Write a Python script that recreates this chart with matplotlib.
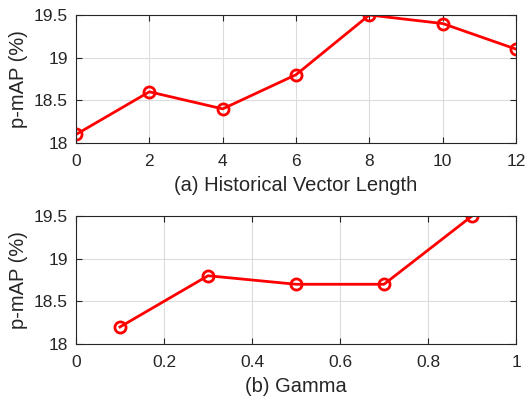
import numpy as np
import matplotlib
matplotlib.use('Agg')
import matplotlib.pyplot as plt

hist_len = [0, 2, 4, 6, 8, 10, 12]
map_hist = [18.1, 18.6, 18.4, 18.8, 19.5, 19.4, 19.1]

gamma = [0.1, 0.3, 0.5, 0.7, 0.9]
map_gamma = [18.2, 18.8, 18.7, 18.7, 19.5]

W, H = 527, 397
fig = plt.figure(figsize=(W / 100, H / 100), dpi=100)
plt.rcParams['font.family'] = 'Liberation Sans'


def axes_px(l, t, r, b):
    return fig.add_axes([l / W, 1 - b / H, (r - l) / W, (b - t) / H])


def style(ax):
    ax.grid(True, color='#dcdcdc', linewidth=0.8)
    ax.set_axisbelow(True)
    ax.tick_params(direction='in', top=True, right=True, labelsize=12.5,
                   colors='#262626', length=4, width=0.8)
    ax.tick_params(axis='x', pad=8)
    ax.tick_params(axis='y', pad=6)
    for s in ax.spines.values():
        s.set_color('#262626')
        s.set_linewidth(0.8)
    ax.set_ylim(18, 19.5)
    ax.set_yticks([18, 18.5, 19, 19.5])
    ax.set_yticklabels(['18', '18.5', '19', '19.5'])
    ax.set_ylabel('p-mAP (%)', fontsize=14.5, color='#262626', labelpad=4)


ax1 = axes_px(76, 15, 516, 143)
ax1.plot(hist_len, map_hist, color='red', linewidth=2, marker='o',
         markersize=8, markerfacecolor='none', markeredgewidth=2)
ax1.set_xlim(0, 12)
ax1.set_xticks(hist_len)
style(ax1)
ax1.set_xlabel('(a) Historical Vector Length', fontsize=14.5, color='#262626',
               labelpad=5)

ax2 = axes_px(76, 216, 516, 344)
ax2.plot(gamma, map_gamma, color='red', linewidth=2, marker='o',
         markersize=8, markerfacecolor='none', markeredgewidth=2)
ax2.set_xlim(0, 1)
ax2.set_xticks([0, 0.2, 0.4, 0.6, 0.8, 1])
ax2.set_xticklabels(['0', '0.2', '0.4', '0.6', '0.8', '1'])
style(ax2)
ax2.set_xlabel('(b) Gamma', fontsize=14.5, color='#262626', labelpad=5)

fig.savefig('out.png', dpi=100)
